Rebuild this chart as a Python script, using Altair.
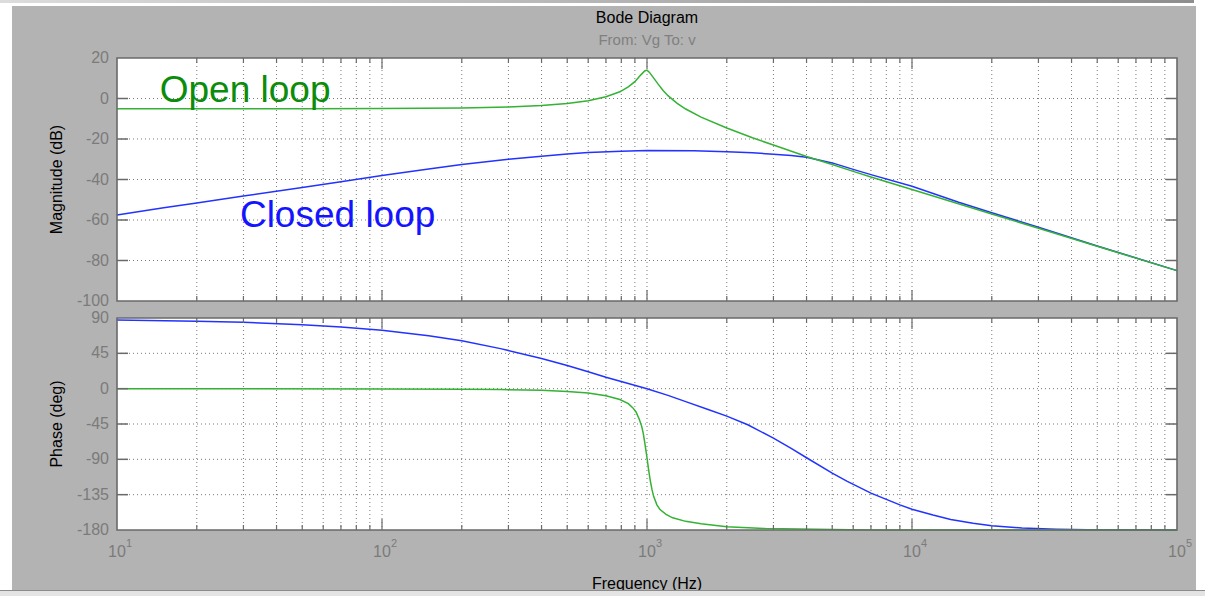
import altair as alt
import pandas as pd

# ---- Bode data: closed loop vs open loop, transfer Vg -> v ----
open_mag_freq = [10, 20, 50, 100, 200, 300, 400, 500, 600, 700, 790, 850, 900, 950, 980,
                 1000, 1020, 1050, 1100, 1150, 1200, 1300, 1400, 1600, 2000, 2500, 3000, 4000,
                 5000, 6000, 7000, 10000, 20000, 30000, 50000, 100000]
open_mag_db = [-5.0, -5.0, -5.0, -4.9, -4.7, -4.2, -3.5, -2.5, -1.1, 0.85, 3.3, 5.7, 8.3, 11.8, 13.6,
               14.0, 13.0, 10.8, 7.2, 4.0, 1.4, -2.4, -5.2, -9.2, -14.6, -19.4, -23.0, -28.6,
               -32.6, -36.0, -38.8, -44.9, -57.0, -64.1, -73.0, -85.0]

closed_mag_freq = [10, 15, 20, 30, 50, 70, 100, 150, 200, 300, 400, 500, 600, 800, 1000,
                   1500, 2000, 2500, 3000, 3500, 4000, 5000, 6000, 7000, 10000, 15000, 20000,
                   30000, 50000, 100000]
closed_mag_db = [-57.5, -54.0, -51.6, -48.2, -43.9, -41.1, -38.0, -34.8, -32.6, -30.0, -28.5,
                 -27.4, -26.7, -26.0, -25.7, -25.8, -26.3, -26.8, -27.5, -28.2, -29.0, -31.8,
                 -35.0, -37.6, -43.3, -51.2, -56.4, -63.6, -72.8, -85.0]

open_ph_freq = [10, 100, 200, 280, 400, 500, 600, 700, 790, 850, 885, 910, 935, 955, 968, 980,
                990, 1000, 1010, 1020, 1030, 1045, 1060, 1090, 1120, 1180, 1250, 1400, 1600,
                2000, 2800, 5000, 7000, 100000]
open_ph_deg = [0.0, -0.3, -0.6, -1.1, -2.0, -3.5, -5.5, -9.0, -13.8, -19.0, -24.5, -30.0, -39.0,
               -48.0, -57.0, -68.0, -78.0, -88.0, -99.0, -109.0, -118.0, -129.0, -137.5,
               -148.0, -154.0, -160.0, -164.5, -169.0, -172.0, -176.0, -178.2, -179.3,
               -180.0, -180.0]

closed_ph_freq = [10, 20, 30, 50, 70, 100, 150, 200, 280, 400, 500, 600, 700, 850, 1000, 1200,
                  1400, 1700, 2000, 2400, 3000, 3500, 4000, 5000, 5700, 7000, 9000, 10000,
                  12000, 14000, 17000, 20000, 26000, 35000, 46000, 100000]
closed_ph_deg = [87.5, 86.0, 84.5, 81.5, 78.5, 74.5, 67.5, 61.0, 51.0, 38.5, 29.5, 21.5, 14.5,
                 6.5, 0.0, -8.5, -16.5, -26.5, -35.0, -46.0, -63.0, -76.0, -88.0, -107.5,
                 -118.0, -133.0, -148.0, -153.5, -161.0, -166.5, -171.5, -174.5, -177.5,
                 -179.0, -179.6, -180.0]

# ---- axis ticks ----
decade_freqs = [10, 100, 1000, 10000, 100000]
decade_exp = ["1", "2", "3", "4", "5"]
inner_decades = [100, 1000, 10000]
minor_freqs = [m * 10 ** k for k in range(1, 5) for m in range(2, 10)]
mag_ticks = [20, 0, -20, -40, -60, -80, -100]
phase_ticks = [90, 45, 0, -45, -90, -135, -180]

# ---- layout and style ----
W, H_MAG, H_PH, GAP = 1060, 243, 212, 17
FONT = "Liberation Sans"
FIG_BG = "#b3b3b3"
GRID = "#7a7a7a"
FRAME = "#6a6a6a"
LABEL = "#7b7b7b"
GREEN = "#33b233"
BLUE = "#2233ff"

x_scale = alt.Scale(type="log", domain=[10, 100000], nice=False)
mag_scale = alt.Scale(domain=[-100, 20], nice=False, zero=False)
ph_scale = alt.Scale(domain=[-180, 90], nice=False, zero=False)

one = pd.DataFrame({"k": [0]})
X = alt.X("f:Q", scale=x_scale, axis=None)


def px_rect(x, x2, y, y2, **mark):
    return alt.Chart(one).mark_rect(**mark).encode(
        x=alt.value(x), x2=alt.value(x2), y=alt.value(y), y2=alt.value(y2))


def px_text(text, x, y, **mark):
    return alt.Chart(one).mark_text(text=text, font=FONT, **mark).encode(
        x=alt.value(x), y=alt.value(y))


def curve(freqs, vals, yscale, color):
    df = pd.DataFrame({"f": freqs, "v": vals})
    return alt.Chart(df).mark_line(color=color, strokeWidth=1.5).encode(
        x=X, y=alt.Y("v:Q", scale=yscale, axis=None))


def panel_layers(h, yscale, yticks):
    Y = alt.Y("v:Q", scale=yscale, axis=None)
    inner_y = pd.DataFrame({"v": yticks[1:-1]})
    vgrid = pd.DataFrame({"f": sorted(minor_freqs + inner_decades)})
    minor = pd.DataFrame({"f": minor_freqs})
    major = pd.DataFrame({"f": inner_decades})
    under = [
        px_rect(0, W, 0, h, color="white"),
        alt.Chart(vgrid).mark_rule(color=GRID, strokeDash=[1, 3], strokeWidth=1).encode(
            x=X, y=alt.value(0), y2=alt.value(h)),
        alt.Chart(inner_y).mark_rule(color=GRID, strokeDash=[1, 3], strokeWidth=1).encode(
            y=Y, x=alt.value(0), x2=alt.value(W)),
    ]
    over = [
        alt.Chart(minor).mark_rule(color=FRAME, strokeWidth=1.2).encode(
            x=X, y=alt.value(0), y2=alt.value(5)),
        alt.Chart(minor).mark_rule(color=FRAME, strokeWidth=1.2).encode(
            x=X, y=alt.value(h - 5), y2=alt.value(h)),
        alt.Chart(major).mark_rule(color=FRAME, strokeWidth=1.2).encode(
            x=X, y=alt.value(0), y2=alt.value(11)),
        alt.Chart(major).mark_rule(color=FRAME, strokeWidth=1.2).encode(
            x=X, y=alt.value(h - 11), y2=alt.value(h)),
        alt.Chart(inner_y).mark_rule(color=FRAME, strokeWidth=1.5).encode(
            y=Y, x=alt.value(0), x2=alt.value(11)),
        alt.Chart(inner_y).mark_rule(color=FRAME, strokeWidth=1.5).encode(
            y=Y, x=alt.value(W - 11), x2=alt.value(W)),
        px_rect(0, W, 0, h, fillOpacity=0, stroke=FRAME, strokeWidth=1.6),
        alt.Chart(pd.DataFrame({"v": yticks, "t": [str(t) for t in yticks]})).mark_text(
            align="right", baseline="middle", font=FONT, fontSize=16, color=LABEL
        ).encode(y=Y, x=alt.value(-8), text="t:N"),
    ]
    return under, over


# ---- magnitude panel (also carries the figure frame and titles) ----
mag_under, mag_over = panel_layers(H_MAG, mag_scale, mag_ticks)
figure_frame = [
    px_rect(-117, 1088, -58, 538, color="white"),
    px_rect(-117, 1077, -58, -55, fill=alt.LinearGradient(
        gradient="linear", x1=0, x2=1, y1=0, y2=0,
        stops=[alt.GradientStop(color="#dcdcdc", offset=0),
               alt.GradientStop(color="#8e8e8e", offset=1)])),
    px_rect(-105, 1079, -52, 532, color=FIG_BG),
]
mag_text = [
    px_text("Bode Diagram", W / 2, -40, fontSize=16, color="black", baseline="middle"),
    px_text("From: Vg  To: v", W / 2, -18, fontSize=15, color="#808080", baseline="middle"),
    px_text("Magnitude (dB)", -60, H_MAG / 2, angle=270, fontSize=16, color="black",
            baseline="middle"),
    alt.Chart(pd.DataFrame({"f": [14.5], "v": [-1.6], "t": ["Open loop"]})).mark_text(
        align="left", baseline="alphabetic", font=FONT, fontSize=37, color="#0b8c0b"
    ).encode(x=X, y=alt.Y("v:Q", scale=mag_scale, axis=None), text="t:N"),
    alt.Chart(pd.DataFrame({"f": [29.1], "v": [-63.5], "t": ["Closed loop"]})).mark_text(
        align="left", baseline="alphabetic", font=FONT, fontSize=37, color="#1414ff"
    ).encode(x=X, y=alt.Y("v:Q", scale=mag_scale, axis=None), text="t:N"),
    px_text("Frequency (Hz)", W / 2, 531, fontSize=16, color="black", baseline="alphabetic"),
    px_rect(-117, 1088, 532, 533, color="#8c8c8c"),
    px_rect(-117, 1088, 533, 538, color="#e4e4e4"),
]
mag_chart = alt.layer(
    *figure_frame,
    *mag_under,
    curve(closed_mag_freq, closed_mag_db, mag_scale, BLUE),
    curve(open_mag_freq, open_mag_db, mag_scale, GREEN),
    *mag_over,
    *mag_text,
).properties(width=W, height=H_MAG)

# ---- phase panel ----
ph_under, ph_over = panel_layers(H_PH, ph_scale, phase_ticks)
decades = pd.DataFrame({"f": decade_freqs, "e": decade_exp, "b": ["10"] * 5})
ph_text = [
    px_text("Phase (deg)", -60, H_PH / 2, angle=270, fontSize=16, color="black",
            baseline="middle"),
    alt.Chart(decades).mark_text(font=FONT, fontSize=16, color=LABEL, align="center",
                                 baseline="alphabetic").encode(
        x=X, y=alt.value(H_PH + 27), text="b:N"),
    alt.Chart(decades).mark_text(font=FONT, fontSize=11, color=LABEL, align="left",
                                 baseline="alphabetic", dx=9).encode(
        x=X, y=alt.value(H_PH + 17), text="e:N"),
]
ph_chart = alt.layer(
    *ph_under,
    curve(closed_ph_freq, closed_ph_deg, ph_scale, BLUE),
    curve(open_ph_freq, open_ph_deg, ph_scale, GREEN),
    *ph_over,
    *ph_text,
).properties(width=W, height=H_PH)

chart = alt.vconcat(mag_chart, ph_chart, spacing=GAP, bounds="flush").properties(
    padding=0, background="white"
).configure_view(stroke=None)

chart.save("out.html", embed_options={"renderer": "svg", "actions": False})
